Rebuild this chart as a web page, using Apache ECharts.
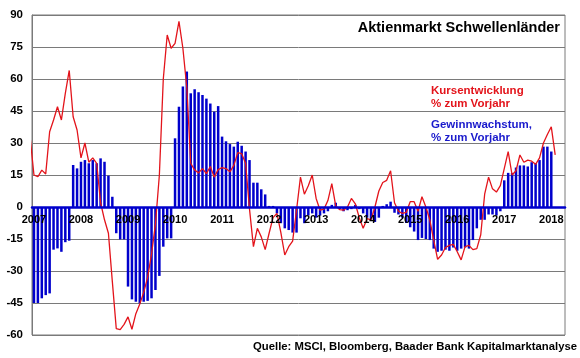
<!DOCTYPE html>
<html>
<head>
<meta charset="utf-8">
<script src="https://cdn.jsdelivr.net/npm/echarts@6/dist/echarts.min.js"></script>
<style>
  html, body { margin: 0; padding: 0; background: #ffffff; }
  #chart { width: 580px; height: 358px; }
</style>
</head>
<body>
<div id="chart"></div>
<script>
// ---- data ----
// Kursentwicklung (% zum Vorjahr), monthly from 2006-12 to 2018-02
const kursStart = [2006, 12];
const kurs = [
  33,
  15, 14.2, 17.3, 15.5, 35.3, 40.8, 47, 40.8, 53.3, 64,
  42.3, 36.1, 23, 30, 21, 23, 20.5, 2, -6, -12.3,
  -35, -57, -57.5, -55, -51.5, -57.3, -50, -45.5, -40, -33,
  -22, -8, 15, 60, 80.6, 74.4, 76.7, 87, 74.4, 56,
  20.5, 17.3, 16, 18, 15.6, 19, 14, 17.5, 18.5, 18,
  16.5, 19.5, 25.5, 25, 20.5, -1, -18.6, -10, -14, -20,
  -12.3, -5, -3, -12, -22.5, -18.6, -16, -1.4, 14, 6,
  10, 15, 4, -1.5, -1, 3, 11, 0.5, -1.2, -1.5,
  0, 4, 1.5, -5, -10, -5.5, -6, 0, 7.5, 11.5,
  12.5, 17, 2, -2, -3, -2.5, 2.5, 2.5, -2, 4.8,
  0, -6, -15.5, -24.5, -22.5, -19, -18, -17.5, -21, -24.8,
  -18.6, -18, -20, -19.5, -13, 6, 14, 8.5, 7, 10,
  18, 26, 15, 17, 24.4, 21, 22, 21.5, 20, 23,
  30, 34, 37.6, 24.4
];
// Gewinnwachstum (% zum Vorjahr), monthly from 2007-01 to 2018-01
const gewinnStart = [2007, 1];
const gewinn = [
  -45, -45, -42.8, -41.3, -40.5, -20, -19.4, -21, -16.5, -15.8,
  19.7, 18.1, 21.2, 22, 20.5, 22, 20.5, 22.8, 21.2, 14.7,
  4.8, -12.3, -15.2, -15.2, -37.3, -43.3, -44.4, -45.2, -44.4, -44,
  -42.8, -38.9, -32.3, -18.6, -14.7, -14.7, 32.2, 47, 56.5, 63.5,
  53.3, 55.2, 53.8, 52.5, 50.8, 48.5, 44.7, 47.3, 33, 30.8,
  29.5, 28.3, 30.6, 28.7, 26, 22, 11.4, 11.4, 8.3, 5.9,
  0.5, 0.5, -3, -7.6, -10, -10.8, -12, -12, -5.3, -7.6,
  -4, -3, -5, -4, -3, -2, 1, 2, -1, -2,
  -1.5, -1, 1, -1, -3, -5, -6, -7, -5, 0.5,
  1.3, 2.5, -2.7, -3.5, -5, -7.5, -9.5, -11.5, -15.5, -14.5,
  -15, -15.5, -19.5, -21, -20.5, -20, -20.5, -19, -20.5, -19.5,
  -19, -19.5, -15.5, -10, -6, -6, -3.5, -3.5, -4, -2,
  12.5, 16, 16, 18.5, 19.5, 19.5, 19, 21, 20.5, 22,
  28.3, 28.3, 26
];
const yearLabels = ['2007','2008','2009','2010','2011','2012','2013','2014','2015','2016','2017','2018'];
const yTicks = [-60, -45, -30, -15, 0, 15, 30, 45, 60, 75, 90];

// month index relative to Jan 2007
function monthIndex(start, k) { return (start[0] - 2007) * 12 + (start[1] - 1) + k; }
const kursData = kurs.map((v, k) => [monthIndex(kursStart, k), v]);
const gewinnData = gewinn.map((v, k) => [monthIndex(gewinnStart, k), v]);
const yearTickValues = yearLabels.map(y => (parseInt(y, 10) - 2007) * 12);

const FONT = '"Liberation Sans", Arial, sans-serif';
const GRID_TOP = 15, GRID_BOTTOM = 23, H = 358;
const plotH = H - GRID_TOP - GRID_BOTTOM;
const yMin = yTicks[0], yMax = yTicks[yTicks.length - 1];
// shift the category axis up so it sits on the zero line
const zeroOffset = -plotH * (0 - yMin) / (yMax - yMin);

const chart = echarts.init(document.getElementById('chart'), null, { renderer: 'canvas' });
chart.setOption({
  animation: false,
  backgroundColor: '#ffffff',
  grid: { left: 32, right: 15, top: GRID_TOP, bottom: GRID_BOTTOM, show: true, borderColor: '#7a7a7a', borderWidth: 1, containLabel: false },
  xAxis: {
    type: 'value', min: -0.5, max: 135.5, z: 10, position: 'bottom', offset: zeroOffset,
    axisLine: { onZero: false, lineStyle: { color: '#0000cc', width: 2.5 } },
    axisTick: { show: false },
    splitLine: { show: false },
    axisLabel: {
      customValues: yearTickValues,
      formatter: v => String(2007 + Math.round(v / 12)),
      color: '#000', fontFamily: FONT, fontWeight: 'bold', fontSize: 11, margin: 7
    }
  },
  yAxis: {
    type: 'value', min: yMin, max: yMax, interval: 15,
    axisLine: { show: true, onZero: false, lineStyle: { color: '#7a7a7a', width: 1 } },
    axisTick: { show: false },
    splitLine: { lineStyle: { color: '#7a7a7a', width: 1 } },
    axisLabel: { color: '#000', fontFamily: FONT, fontWeight: 'bold', fontSize: 11.5, margin: 9 }
  },
  series: [
    {
      name: 'Gewinnwachstum', type: 'bar', data: gewinnData, barWidth: 2.5,
      itemStyle: { color: '#0000cc' }, z: 2
    },
    {
      name: 'Kursentwicklung', type: 'line', data: kursData, clip: true,
      symbol: 'none', lineStyle: { color: '#e3141b', width: 1.3 }, z: 3
    }
  ],
  graphic: [
    { type: 'text', x: 560, y: 28, style: { text: 'Aktienmarkt Schwellenländer', align: 'right', verticalAlign: 'middle', fill: '#000', font: 'bold 14.5px ' + FONT } },
    { type: 'text', x: 431, y: 84, style: { text: 'Kursentwicklung\n% zum Vorjahr', lineHeight: 13.5, fill: '#e3141b', font: 'bold 11.5px ' + FONT } },
    { type: 'text', x: 431, y: 119, style: { text: 'Gewinnwachstum,\n% zum Vorjahr', lineHeight: 12.5, fill: '#1a1acc', font: 'bold 11.5px ' + FONT } },
    { type: 'text', x: 577, y: 347, style: { text: 'Quelle: MSCI, Bloomberg, Baader Bank Kapitalmarktanalyse', align: 'right', verticalAlign: 'middle', fill: '#000', font: 'bold 11.3px ' + FONT } }
  ]
});
</script>
</body>
</html>
